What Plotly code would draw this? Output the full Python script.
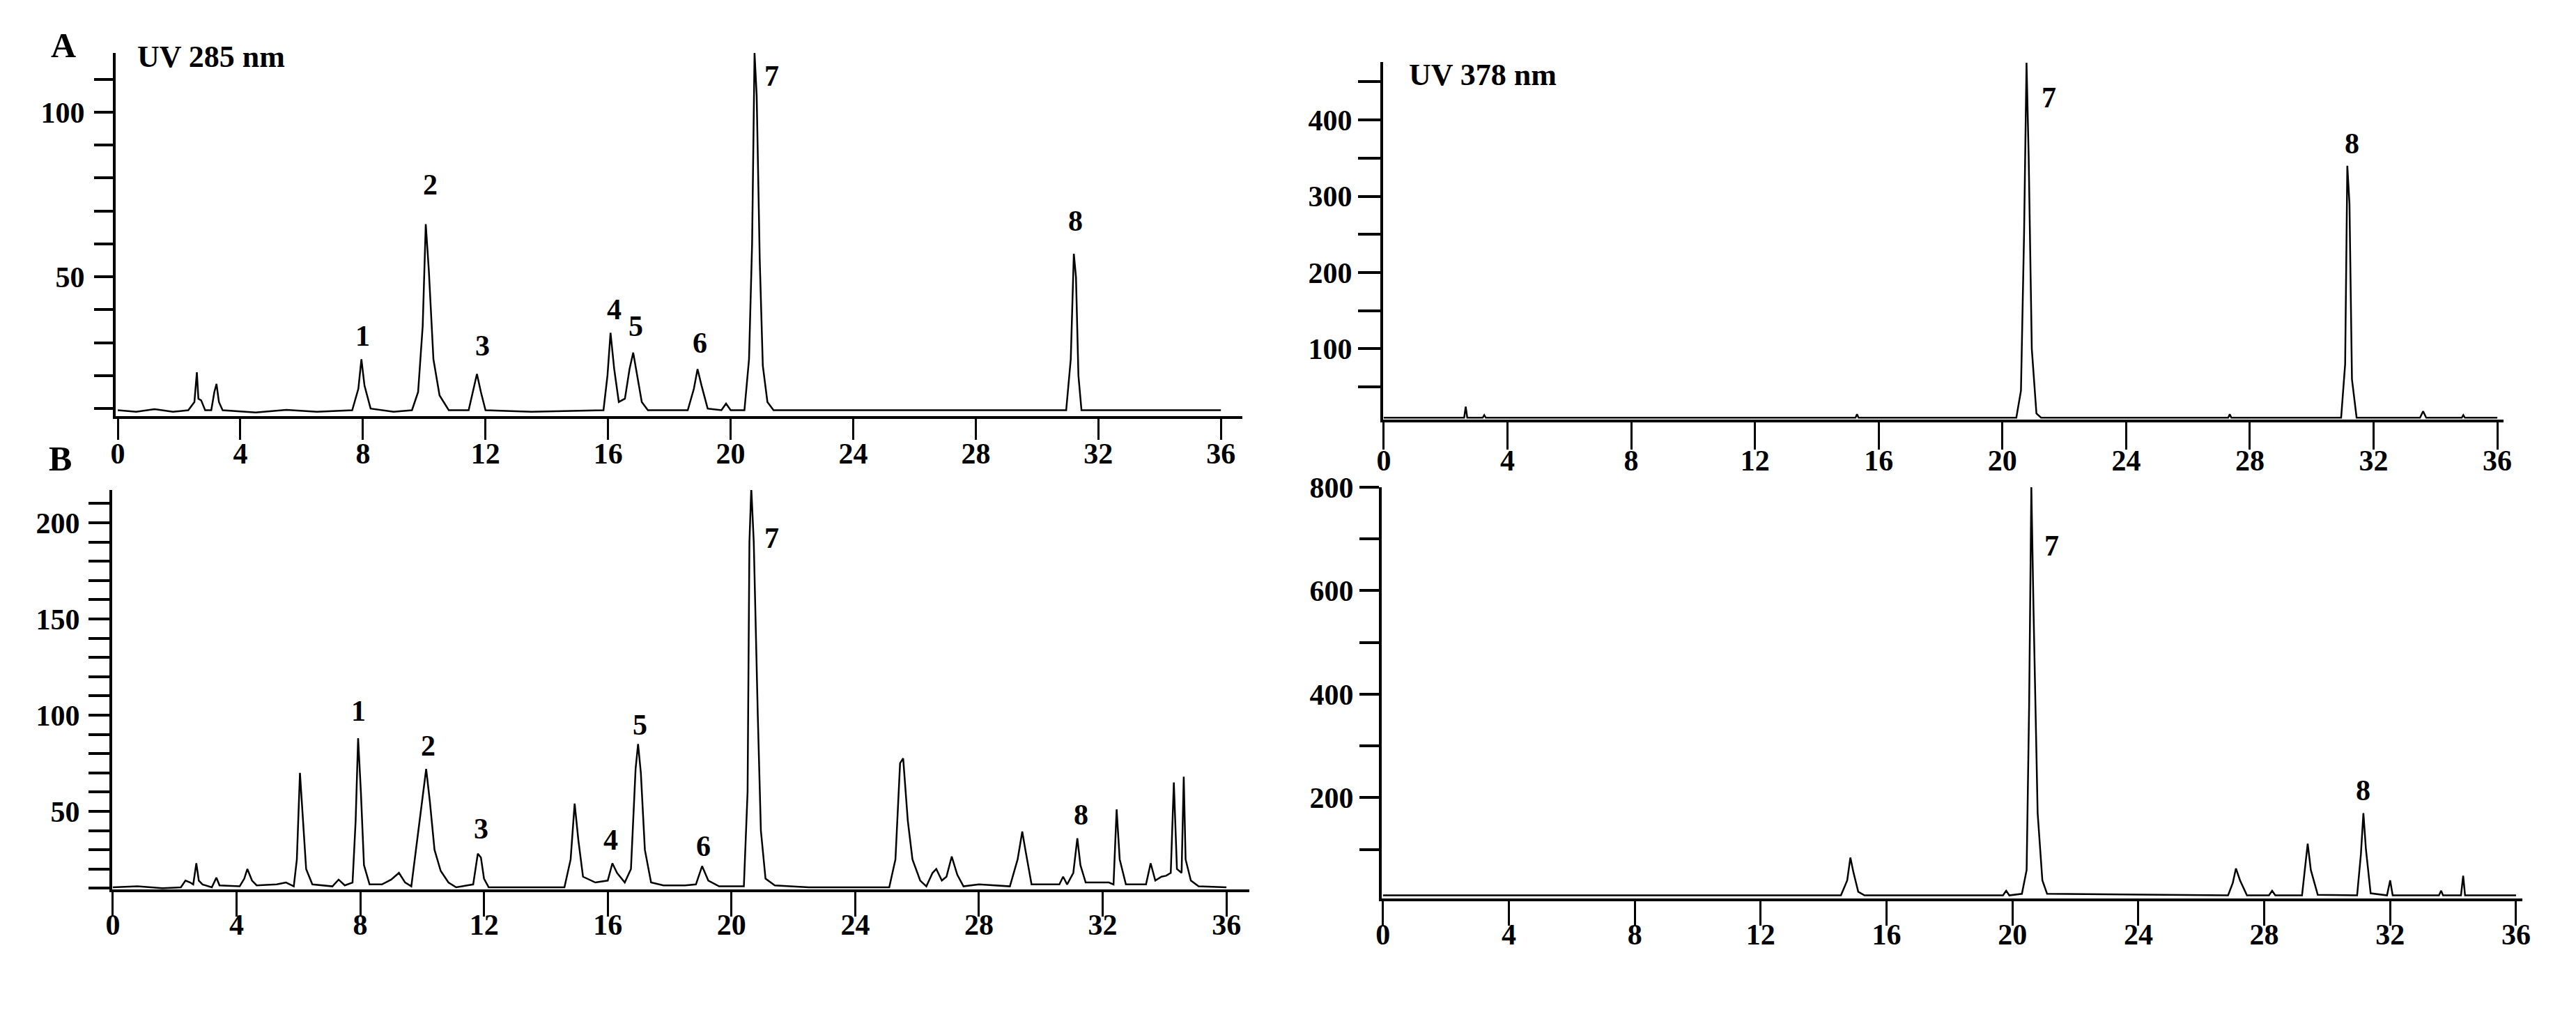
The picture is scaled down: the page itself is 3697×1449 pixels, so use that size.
import plotly.graph_objects as go

# ---- data (retention time in min, signal in mAU) ----

# A: UV 285 nm
a_time = [0.0, 0.6, 1.2, 1.8, 2.3, 2.5, 2.58, 2.63, 2.72, 2.85, 3.05, 3.15, 3.22, 3.3, 3.42, 4.5, 5.5,
          6.5, 7.65, 7.85, 7.95, 8.05, 8.25, 9.0, 9.6, 9.8, 9.95, 10.05, 10.15, 10.3, 10.5, 10.8,
          11.45, 11.6, 11.72, 11.85, 12.0, 13.5, 15.85, 15.98, 16.08, 16.2, 16.35, 16.55, 16.7,
          16.82, 16.95, 17.1, 17.3, 18.6, 18.8, 18.92, 19.05, 19.25, 19.7, 19.85, 20.0, 20.45,
          20.6, 20.7, 20.78, 20.85, 20.95, 21.05, 21.2, 21.4, 23.0, 27.0, 30.95, 31.1, 31.2,
          31.27, 31.35, 31.45, 33.0, 36.0]
a_signal = [9.5, 9.0, 9.8, 9.0, 9.5, 12.0, 21.0, 13.0, 12.5, 9.5, 9.5, 15.0, 17.5, 12.0, 9.5, 8.8, 9.6,
            9.0, 9.5, 16.0, 25.0, 17.0, 10.0, 9.0, 9.5, 15.0, 35.0, 66.0, 52.0, 25.0, 14.0, 9.5,
            9.5, 16.0, 20.5, 15.0, 9.5, 9.0, 9.5, 20.0, 33.0, 22.0, 12.0, 13.0, 22.0,
            27.0, 20.0, 12.0, 9.5, 9.5, 16.0, 22.0, 17.0, 10.0, 9.5, 11.5, 9.5, 9.5,
            25.0, 60.0, 118.0, 105.0, 55.0, 23.0, 12.0, 9.5, 9.5, 9.5, 9.5, 25.0, 57.0,
            50.0, 20.0, 9.5, 9.5, 9.5]

# B: UV 285 nm, second sample
b_time = [0.0, 0.8, 1.6, 2.2, 2.35, 2.5, 2.6, 2.7, 2.78, 2.9, 3.2, 3.35, 3.45, 4.1, 4.25, 4.35, 4.5,
          4.65, 5.3, 5.6, 5.85, 5.95, 6.05, 6.15, 6.25, 6.45, 7.1, 7.3, 7.5, 7.75, 7.85, 7.93,
          8.02, 8.12, 8.3, 8.7, 9.0, 9.25, 9.45, 9.65, 9.8, 9.95, 10.13, 10.25, 10.4, 10.6,
          10.85, 11.1, 11.65, 11.8, 11.9, 12.0, 12.15, 13.5, 14.6, 14.8, 14.93, 15.05, 15.2,
          15.6, 16.0, 16.15, 16.3, 16.55, 16.75, 16.9, 16.98, 17.07, 17.2, 17.4, 17.8, 18.5,
          18.85, 19.05, 19.25, 19.6, 20.4, 20.52, 20.58, 20.64, 20.72, 20.85, 20.95, 21.1,
          21.4, 22.5, 25.1, 25.3, 25.45, 25.55, 25.7, 25.85, 26.1, 26.3, 26.5, 26.62, 26.8,
          26.95, 27.12, 27.3, 27.5, 28.0, 29.0, 29.25, 29.4, 29.5, 29.7, 30.6, 30.72, 30.85,
          31.05, 31.18, 31.28, 31.45, 32.2, 32.35, 32.45, 32.55, 32.75, 33.4, 33.55, 33.7,
          33.9, 34.05, 34.2, 34.3, 34.4, 34.55, 34.62, 34.68, 34.85, 35.1, 36.0]
b_signal = [10.5, 11.0, 10.0, 10.5, 14.0, 13.0, 12.0, 23.0, 14.0, 12.0, 10.5, 15.5, 11.5, 11.0, 15.0, 20.0, 14.0,
            11.5, 12.0, 13.0, 11.0, 25.0, 70.0, 45.0, 20.0, 12.0, 11.0, 14.5, 11.5, 13.0, 45.0, 88.0,
            60.0, 22.0, 12.0, 12.0, 14.5, 18.0, 13.0, 11.0, 30.0, 50.0, 72.0, 55.0, 30.0, 19.0,
            13.0, 10.5, 12.0, 28.0, 26.0, 15.0, 10.5, 10.5, 10.5, 25.0, 54.0, 35.0, 16.0,
            13.0, 14.0, 23.0, 18.0, 13.0, 20.0, 72.0, 85.0, 70.0, 30.0, 13.0, 11.5, 11.5,
            12.0, 21.5, 14.0, 11.0, 11.0, 60.0, 190.0, 218.0, 190.0, 100.0, 40.0, 15.0,
            11.5, 10.5, 10.5, 25.0, 75.0, 77.5, 45.0, 25.0, 14.0, 11.0, 18.0, 20.0, 14.0,
            16.0, 26.5, 17.0, 11.0, 12.0, 11.0, 25.0, 39.5, 30.0, 12.0, 12.0, 16.0, 12.0,
            18.0, 36.0, 22.0, 13.0, 13.0, 12.0, 51.0, 25.0, 12.0, 12.0, 23.0, 14.0,
            16.0, 16.5, 18.0, 65.0, 20.0, 18.0, 68.0, 25.0, 14.0, 11.0, 10.5]

# C: UV 378 nm
c_time = [0.0, 2.6, 2.65, 2.7, 3.2, 3.25, 3.3, 15.25, 15.3, 15.35, 20.45, 20.6, 20.7, 20.78, 20.85,
          20.95, 21.1, 21.25, 27.3, 27.35, 27.4, 30.95, 31.08, 31.15, 31.22, 31.3, 31.45, 33.5,
          33.6, 33.7, 34.85, 34.9, 34.95, 36.0]
c_signal = [9.5, 9.5, 24.0, 9.5, 9.5, 13.0, 9.5, 9.5, 14.0, 9.5, 9.5, 45.0, 250.0, 475.0, 350.0,
            100.0, 15.0, 9.5, 9.5, 14.0, 9.5, 9.5, 80.0, 340.0, 290.0, 60.0, 9.5, 9.5,
            18.0, 9.5, 9.5, 13.0, 9.5, 9.5]

# D: UV 378 nm, second sample
d_time = [0.0, 14.55, 14.75, 14.85, 14.95, 15.1, 15.3, 19.7, 19.8, 19.9, 20.3, 20.45, 20.53, 20.6,
          20.67, 20.8, 20.95, 21.1, 26.85, 27.0, 27.1, 27.23, 27.45, 28.15, 28.25, 28.35, 29.2,
          29.3, 29.38, 29.48, 29.7, 30.95, 31.07, 31.15, 31.23, 31.38, 31.9, 32.0, 32.08, 33.55,
          33.62, 33.68, 34.25, 34.32, 34.38, 36.0]
d_signal = [11.0, 11.0, 40.0, 84.0, 55.0, 18.0, 11.0, 11.0, 20.0, 11.0, 14.0, 60.0, 380.0, 800.0,
            560.0, 170.0, 40.0, 14.0, 11.0, 35.0, 63.0, 40.0, 11.0, 11.0, 20.0, 11.0, 11.0,
            70.0, 111.0, 60.0, 12.0, 11.0, 90.0, 170.0, 100.0, 15.0, 11.0, 40.0, 11.0, 11.0,
            20.0, 11.0, 11.0, 49.0, 11.0, 11.0]

# peak numbers: (label, time, height of label)
a_labels = [("1", 8.0, 32), ("2", 10.2, 78), ("3", 11.9, 29), ("4", 16.2, 40), ("5", 16.9, 35),
            ("6", 19.0, 30), ("7", 21.35, 111), ("8", 31.25, 67)]
b_labels = [("1", 7.95, 102), ("2", 10.2, 84), ("3", 11.9, 41), ("4", 16.1, 35), ("5", 17.05, 95),
            ("6", 19.1, 32), ("7", 21.3, 192), ("8", 31.3, 48)]
c_labels = [("7", 21.5, 429), ("8", 31.3, 369)]
d_labels = [("7", 21.25, 687), ("8", 31.15, 214)]

x_ticks = [0, 4, 8, 12, 16, 20, 24, 28, 32, 36]
a_yticks = list(range(10, 111, 10))
a_ylabels = ["" if v % 50 else str(v) for v in a_yticks]
b_yticks = list(range(10, 211, 10))
b_ylabels = ["" if v % 50 else str(v) for v in b_yticks]
c_yticks = list(range(50, 451, 50))
c_ylabels = ["" if v % 100 else str(v) for v in c_yticks]
d_yticks = list(range(100, 801, 100))
d_ylabels = ["" if v % 200 else str(v) for v in d_yticks]

W, H = 3697, 1449
FONT = "Liberation Serif"


def px_x(p):
    return p / W


def px_y(p):
    return 1 - p / H


def bold(size):
    return dict(family=FONT, size=size, color="black", weight="bold")


panels = [
    # name, time, signal, labels, yticks, ylabels, x px domain, y px domain (bottom, top), xrange, yrange,
    # x ticklen, x label standoff, y ticklen, y label standoff
    ("", a_time, a_signal, a_labels, a_yticks, a_ylabels, (158, 1775), (589, 68), [-0.07, 36.7], [7.7, 118], 30, -16, 27, 5),
    ("2", b_time, b_signal, b_labels, b_yticks, b_ylabels, (153, 1785), (1268, 695), [-0.02, 36.74], [9.4, 217], 35, -24, 30, 4),
    ("3", c_time, c_signal, c_labels, c_yticks, c_ylabels, (1977, 3585), (594, 81), [-0.02, 36.2], [7, 476], 39, -20, 32, 0),
    ("4", d_time, d_signal, d_labels, d_yticks, d_ylabels, (1975, 3612), (1281, 691), [-0.04, 36.2], [5, 800], 35, -23, 28, 0),
]

fig = go.Figure()
layout = {}
annotations = []

for name, t, s, labels, yt, yl, xd, yd, xr, yr, xlen, xoff, ylen, yoff in panels:
    xa = "x" + name
    ya = "y" + name
    fig.add_trace(go.Scatter(x=t, y=s, mode="lines", xaxis=xa, yaxis=ya,
                             line=dict(color="black", width=2.5), showlegend=False))
    layout["xaxis" + name] = dict(
        domain=[px_x(xd[0]), px_x(xd[1])], range=xr, anchor=ya, automargin=False,
        tickvals=x_ticks, ticks="outside", ticklen=xlen, tickwidth=2.5, tickcolor="black",
        ticklabelstandoff=xoff,
        showline=True, linecolor="black", linewidth=4, showgrid=False, zeroline=False,
        tickfont=bold(42),
    )
    layout["yaxis" + name] = dict(
        domain=[px_y(yd[0]), px_y(yd[1])], range=yr, anchor=xa, automargin=False,
        tickvals=yt, ticktext=yl, ticks="outside", ticklen=ylen, tickwidth=4, tickcolor="black",
        ticklabelstandoff=yoff,
        showline=True, linecolor="black", linewidth=4, showgrid=False, zeroline=False,
        tickfont=bold(42),
    )
    for text, lx, ly in labels:
        annotations.append(dict(x=lx, y=ly, xref=xa, yref=ya, text=text, showarrow=False,
                                xanchor="center", yanchor="middle", font=bold(42)))

# panel letters and wavelength captions
annotations += [
    dict(x=px_x(83), y=px_y(57), text="A", font=bold(50), xanchor="center"),
    dict(x=px_x(78), y=px_y(650), text="B", font=bold(50), xanchor="center"),
    dict(x=px_x(187), y=px_y(73), text="UV 285 nm", font=bold(44), xanchor="left"),
    dict(x=px_x(2012), y=px_y(100), text="UV 378 nm", font=bold(44), xanchor="left"),
]
for ann in annotations[-4:]:
    ann.update(xref="paper", yref="paper", showarrow=False, yanchor="middle")

fig.update_layout(
    template="none",
    width=W, height=H, autosize=False,
    margin=dict(l=0, r=0, t=0, b=0, pad=0),
    paper_bgcolor="white", plot_bgcolor="white",
    annotations=annotations,
    **layout,
)

fig.write_html("out.html")
